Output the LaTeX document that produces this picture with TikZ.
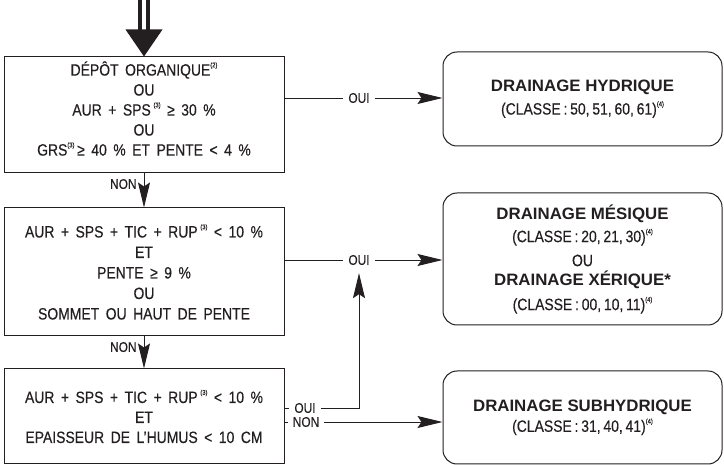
\documentclass[tikz,border=0pt]{standalone}
\usepackage{fontspec}
\setmainfont{Liberation Sans}[FakeStretch=0.85, UprightFeatures={FakeBold=0.3}, BoldFeatures={FakeStretch=1.02}]
\usetikzlibrary{arrows.meta,calc}
\definecolor{ink}{RGB}{35,31,32}
\newcommand{\fnref}[1]{\raisebox{0.95ex}{\fontsize{6.8}{6.8}\selectfont(#1)}}
\newcommand{\cls}[1]{{\spaceskip=2.8pt\relax #1}}
\newcommand{\res}[1]{{\fontsize{16.5}{20.5}\selectfont\bfseries #1}}
\newcommand{\widesp}{\spaceskip=6.5pt\relax}
\begin{document}
\begin{tikzpicture}[x=1pt,y=-1pt,
  box/.style={draw=ink, line width=1pt, minimum width=280pt, inner sep=0pt, align=center, text=ink, font=\fontsize{16.4}{20.5}\selectfont\widesp},
  boxtext/.style={inner sep=0pt, align=center, text=ink, font=\fontsize{16.4}{20}\selectfont\widesp},
  res/.style={box, rounded corners=14pt, minimum width=279pt, font=\fontsize{16.4}{20.5}\selectfont},
  lbl/.style={text=ink, font=\fontsize{14}{14}\selectfont, inner xsep=5pt, inner ysep=2pt},
  conn/.style={draw=ink, line width=0.9pt},
  arr/.style={conn, -{Stealth[length=25pt,width=12pt,inset=4pt]}},
  bar/.style={draw=ink, line width=4.5pt}]
\useasboundingbox (0,0) rectangle (724,465);

% decision boxes
\node[box, minimum height=116pt] (b1) at (144,115) {};
\node[boxtext] (t1) at (144,108.5)
  {DÉPÔT ORGANIQUE\fnref{2}\\OU\\AUR + SPS\,\fnref{3} ≥ 30 \%\\OU\\GRS\fnref{3}\,≥ 40 \% ET PENTE < 4 \%};
\node[box, minimum height=128pt] (b2) at (144,272)
  {AUR + SPS + TIC + RUP\,\fnref{3} < 10 \%\\ET\\PENTE ≥ 9 \%\\OU\\SOMMET OU HAUT DE PENTE};
\node[box, minimum height=95pt, font=\fontsize{16.4}{20}\selectfont\widesp] (b3) at (144,416.5)
  {AUR + SPS + TIC + RUP\,\fnref{3} < 10 \%\\ET\\EPAISSEUR DE L'HUMUS < 10 CM};

% result boxes
\node[res, minimum height=94pt] (r1) at (582.5,99)
  {\res{DRAINAGE HYDRIQUE}\\[2.5pt]\cls{(CLASSE : 50, 51, 60, 61)}\fnref{4}};
\node[res, minimum height=132pt] (r2) at (582.5,259)
  {\res{DRAINAGE MÉSIQUE}\\[2.5pt]\cls{(CLASSE : 20, 21, 30)}\fnref{4}\\[3.5pt]OU\\[-1pt]\res{DRAINAGE XÉRIQUE*}\\[4pt]\cls{(CLASSE : 00, 10, 11)}\fnref{4}};
\node[res, minimum height=93pt] (r3) at (582.5,417.5)
  {\res{DRAINAGE SUBHYDRIQUE}\\\cls{(CLASSE : 31, 40, 41)}\fnref{4}};

% entry arrow
\coordinate (in) at (b1.north |- 0,0);
\draw[bar] ([xshift=-4.2pt]in) -- ++(0,31);
\draw[bar] ([xshift=4.2pt]in) -- ++(0,31);
\fill[ink] (b1.north) -- ++(-18.5,-27) -- ++(37,0) -- cycle;

% vertical NON connectors
\draw[arr] (b1.south) -- node[lbl, pos=0.31, left, xshift=-2pt] (non1) {NON} (b2.north);
\draw[arr] (b2.south) -- node[lbl, pos=0.33, left, xshift=-2pt] (non2) {NON} (b3.north);

% OUI from box 1
\node[lbl] (oui1) at (359,98) {OUI};
\draw[conn] (b1.east |- oui1) -- (oui1.west);
\draw[arr] (oui1.east) -- (r1.west |- oui1);

% OUI from box 2
\node[lbl] (oui2) at (359,260) {OUI};
\draw[conn] (b2.east |- oui2) -- (oui2.west);
\draw[arr] (oui2.east) -- (r2.west |- oui2);

% box 3 exits
\node[lbl] (oui3) at (305,408) {OUI};
\node[lbl] (non3) at (306,422) {NON};
\draw[conn] (b3.east |- oui3) -- (oui3.west);
\coordinate (turn) at (oui2 |- oui3);
\draw[arr, shorten >=6pt] (oui3.east) -- (turn) -- (oui2.south);
\draw[conn] (b3.east |- non3) -- (non3.west);
\draw[arr] (non3.east) -- (r3.west |- non3);
\end{tikzpicture}
\end{document}
